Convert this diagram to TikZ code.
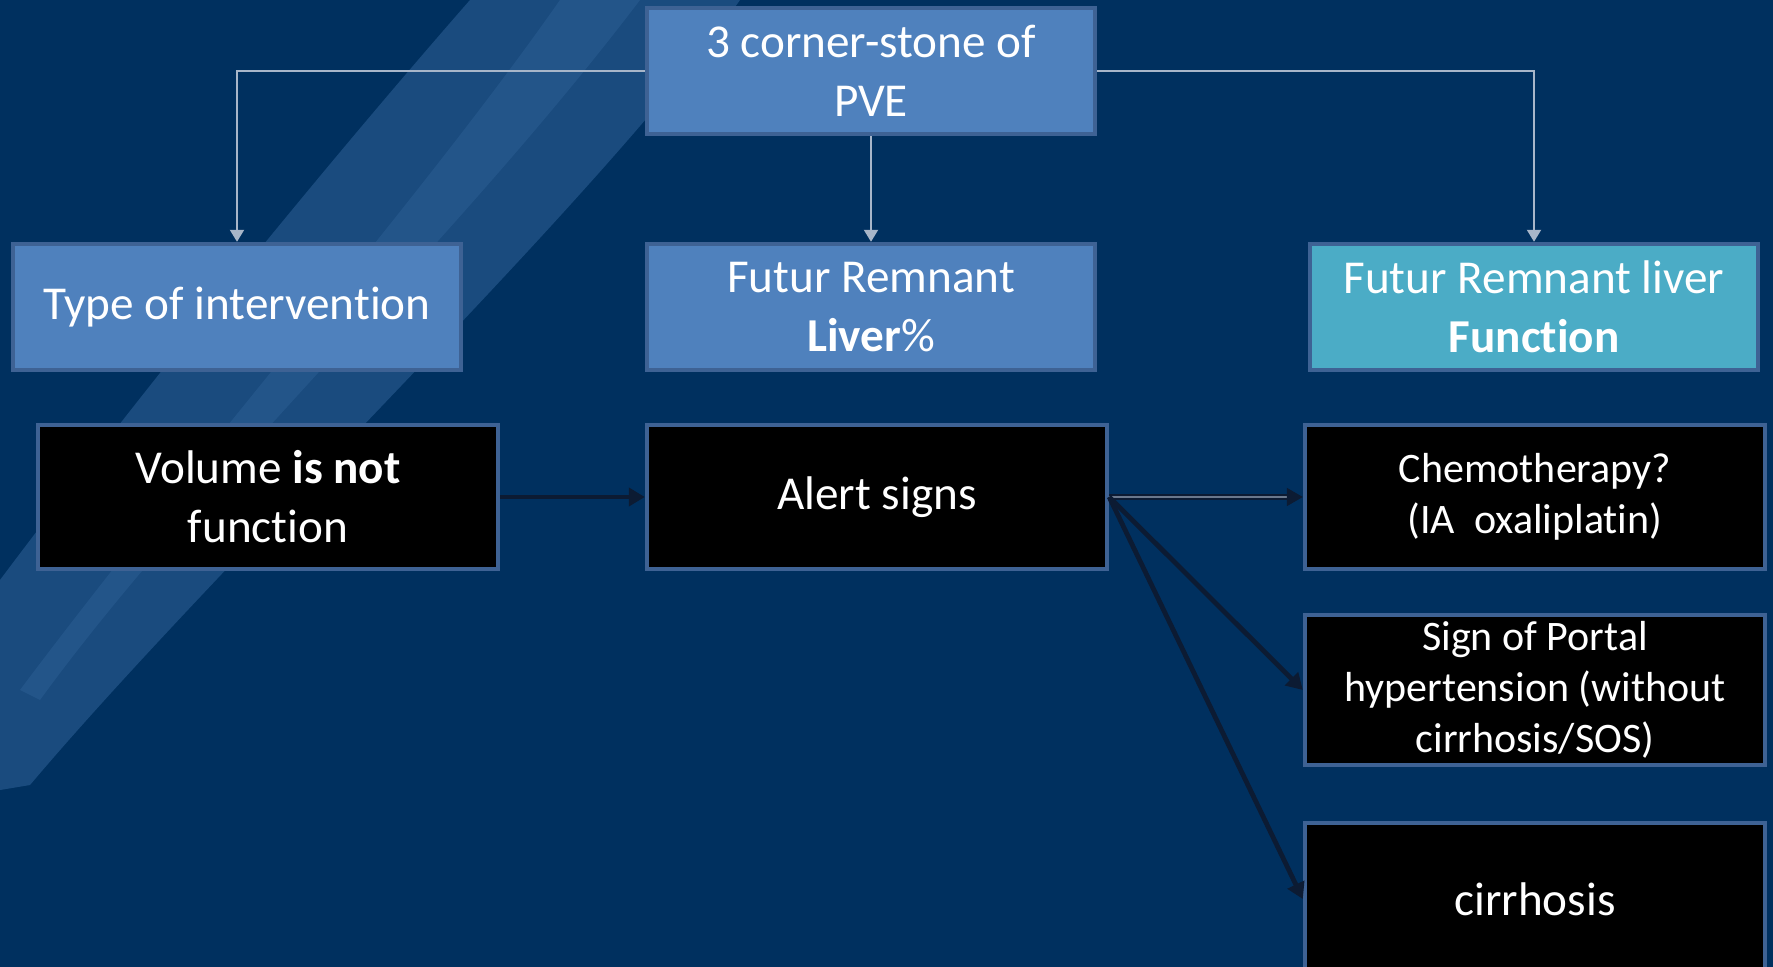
\documentclass[tikz,border=0pt]{standalone}
\usepackage{fontspec}
\setmainfont{Carlito}[Ligatures={NoCommon,NoRare,NoContextual}, Contextuals=NoAlternate]
\usetikzlibrary{arrows.meta}

\definecolor{bgblue}{HTML}{00305F}
\definecolor{brushblue}{HTML}{3A6EA5}
\definecolor{boxblue}{HTML}{4F81BD}
\definecolor{boxaqua}{HTML}{4BACC6}
\definecolor{boxedge}{HTML}{3E6294}
\definecolor{linkgray}{HTML}{A8B6C9}
\definecolor{darklink}{HTML}{0C1B33}

\begin{document}
\begin{tikzpicture}[x=0.5pt,y=-0.5pt,
	bigfont/.style={font=\fontsize{23.6}{29.5}\selectfont},
	smallfont/.style={font=\fontsize{21}{25.5}\selectfont},
	topbox/.style={draw=boxedge, line width=2.2pt, fill=boxblue, text=white, align=center, minimum width=224pt, minimum height=63pt, bigfont},
	blackbox/.style={draw=boxedge, line width=2.2pt, fill=black, text=white, align=center, minimum width=230pt, minimum height=72pt, bigfont},
	graylink/.style={draw=linkgray, line width=1pt, -{Triangle[width=7pt,length=6pt]}},
	darklink/.style={draw=darklink, line width=2.4pt, -{Triangle[width=9pt,length=8pt]}}]
	\fill[bgblue] (0,0) rectangle (1773,967);
	\useasboundingbox (0,0) rectangle (1773,967);
	% brush stroke in the background
	\fill[brushblue, opacity=0.45] (470,0) -- (740,0) .. controls (600,200) and (220,560) .. (30,785) -- (0,790) -- (0,580) .. controls (150,380) and (330,160) .. (470,0);
	\fill[brushblue, opacity=0.3] (560,0) -- (640,0) .. controls (450,250) and (200,480) .. (40,700) -- (20,690) .. controls (200,450) and (420,200) .. (560,0);

	\node[topbox] at(871,71) (cs) {3 corner-stone of\\PVE};
	\node[topbox] at(237,307) (toi) {Type of intervention};
	\node[topbox] at(871,307) (frl) {Futur Remnant\\\textbf{Liver}\%};
	\node[topbox, fill=boxaqua] at(1534,307) (frf) {Futur Remnant liver\\\textbf{Function}};

	\node[blackbox] at(268,497) (vol) {Volume \textbf{is not}\\function};
	\node[blackbox] at(877,497) (alert) {Alert signs};
	\node[blackbox, smallfont] at(1535,497) (chemo) {Chemotherapy?\\(IA~~oxaliplatin)};
	\node[blackbox, smallfont, minimum height=73pt] at(1535,690) (portal) {Sign of Portal\\hypertension (without\\cirrhosis/SOS)};
	\node[blackbox, minimum height=76pt] at(1535,899) (cirr) {cirrhosis};

	\draw[graylink] (cs.west) -| (toi.north);
	\draw[graylink] (cs.south) -- (frl.north);
	\draw[graylink] (cs.east) -| (frf.north);

	\draw[darklink] (vol.east) -- (alert.west);
	\draw[darklink, line width=0.8pt, double=linkgray!60!darklink, double distance=1.2pt] (alert.east) -- (chemo.west);
	\draw[darklink] (alert.east) -- (portal.west);
	\draw[darklink] (alert.east) -- (cirr.west);
\end{tikzpicture}
\end{document}
